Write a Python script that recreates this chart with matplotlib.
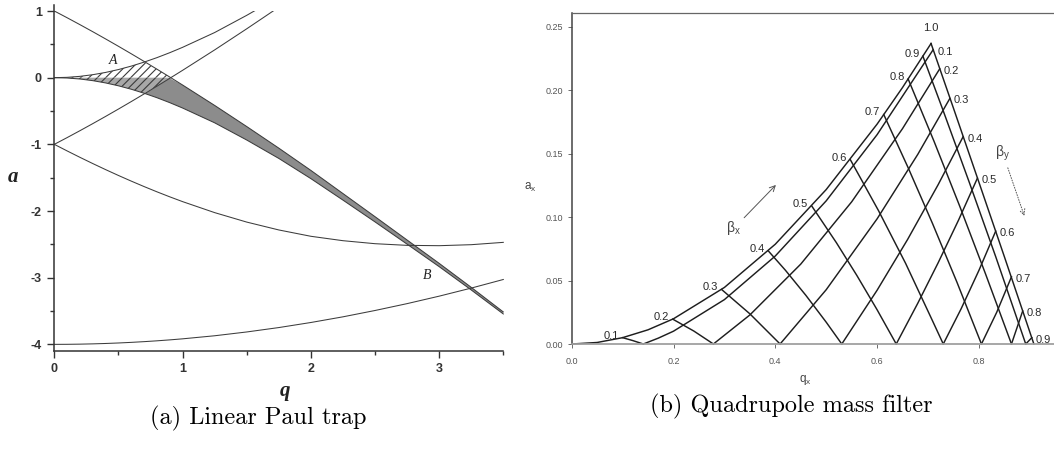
import numpy as np
import matplotlib
matplotlib.use("Agg")
import matplotlib.pyplot as plt
from matplotlib.patches import Rectangle

plt.rcParams['font.family'] = ['Liberation Sans', 'DejaVu Sans']
plt.rcParams['axes.unicode_minus'] = False
plt.rcParams['hatch.linewidth'] = 0.8
plt.rcParams['hatch.color'] = '#3a3a3a'

# ---- (a) linear Paul trap: boundary curves ----
q_grid = [0.0, 0.1, 0.2, 0.3, 0.4, 0.5, 0.6, 0.7, 0.8, 0.9, 1.0,
          1.25, 1.5, 1.75, 2.0, 2.25, 2.5, 2.75, 3.0, 3.25, 3.5]
a0_curve = [0.0, -0.005, -0.0199, -0.0446, -0.0787, -0.1218, -0.1734, -0.2332, -0.3004, -0.3746, -0.4551,
            -0.677, -0.935, -1.211, -1.514, -1.836, -2.163, -2.497, -2.834, -3.184, -3.544]
b1_curve = [1.0, 0.8988, 0.7951, 0.6892, 0.5810, 0.4707, 0.3583, 0.2439, 0.1276, 0.0095, -0.1102,
            -0.4165, -0.733, -1.057, -1.391, -1.738, -2.085, -2.435, -2.785, -3.145, -3.514]
a1_curve = [-1.0, -1.0987, -1.1949, -1.2883, -1.379, -1.4668, -1.5516, -1.6333, -1.7119, -1.7872, -1.8591,
            -2.024, -2.166, -2.284, -2.379, -2.445, -2.49, -2.515, -2.52, -2.505, -2.47]
b2_curve = [-4.0, -3.9992, -3.9967, -3.9925, -3.9867, -3.9792, -3.970, -3.9592, -3.9468, -3.9327, -3.917,
            -3.871, -3.814, -3.748, -3.672, -3.587, -3.492, -3.389, -3.277, -3.156, -3.027]

# ---- (b) quadrupole mass filter: iso-beta lines ----
beta_labels = ['0.1', '0.2', '0.3', '0.4', '0.5', '0.6', '0.7', '0.8', '0.9', '1.0']
# beta_x = 0.1 ... 1.0 (from left boundary down to a=0)
betax_q = [[0.100, 0.120, 0.1407],
           [0.1985, 0.240, 0.2784],
           [0.2945, 0.350, 0.4094],
           [0.3863, 0.420, 0.460, 0.500, 0.5306],
           [0.4718, 0.520, 0.560, 0.600, 0.6376],
           [0.5475, 0.603, 0.656, 0.7085, 0.730],
           [0.613, 0.661, 0.709, 0.757, 0.805],
           [0.661, 0.712, 0.7625, 0.813, 0.864],
           [0.690, 0.728, 0.781, 0.833, 0.892],
           [0.706, 0.750, 0.800, 0.850, 0.908]]
betax_a = [[0.0050, 0.0027, 0.0],
           [0.0196, 0.0102, 0.0],
           [0.0430, 0.0238, 0.0],
           [0.0734, 0.0581, 0.0384, 0.0172, 0.0],
           [0.1087, 0.0799, 0.0542, 0.0270, 0.0],
           [0.1453, 0.105, 0.0636, 0.0186, 0.0],
           [0.181, 0.139, 0.0949, 0.0486, 0.0],
           [0.209, 0.1597, 0.1085, 0.0553, 0.0],
           [0.227, 0.186, 0.1276, 0.0689, 0.0],
           [0.237, 0.186, 0.1276, 0.0689, 0.0]]
# beta_y = 0.0 ... 0.9 (from a=0 up to right boundary)
betay_q = [[0.0, 0.05, 0.1, 0.15, 0.2, 0.3, 0.4, 0.5, 0.6, 0.65, 0.706],
           [0.1407, 0.17, 0.2, 0.3, 0.4, 0.5, 0.6, 0.710],
           [0.2784, 0.35, 0.45, 0.55, 0.65, 0.723],
           [0.4094, 0.5, 0.6, 0.68, 0.743],
           [0.5306, 0.6, 0.66, 0.72, 0.769],
           [0.6376, 0.68, 0.72, 0.76, 0.797],
           [0.730, 0.765, 0.800, 0.833],
           [0.805, 0.835, 0.864],
           [0.864, 0.886],
           [0.892, 0.904]]
betay_a = [[0.0, 0.0012, 0.0050, 0.0112, 0.0199, 0.0446, 0.0787, 0.1218, 0.1734, 0.2023, 0.237],
           [0.0, 0.0046, 0.0101, 0.0350, 0.0694, 0.1129, 0.1651, 0.232],
           [0.0, 0.0229, 0.0630, 0.1121, 0.1699, 0.217],
           [0.0, 0.0428, 0.0987, 0.1496, 0.1937],
           [0.0, 0.0424, 0.0825, 0.1257, 0.1635],
           [0.0, 0.0322, 0.0641, 0.0977, 0.1307],
           [0.0, 0.0277, 0.058, 0.089],
           [0.0, 0.025, 0.053],
           [0.0, 0.026],
           [0.0, 0.005]]

W, H = 1054, 454
fig = plt.figure(figsize=(W / 100, H / 100), dpi=100)


def box(l, t, r, b):
    return [l / W, 1 - b / H, (r - l) / W, (b - t) / H]


# ================= panel (a) =================
ax1 = fig.add_axes(box(54.3, 5, 503.3, 350.7))
q = np.array(q_grid)
A0 = np.array(a0_curve)
B1 = np.array(b1_curve)

up = np.minimum(-A0, B1)
ax1.fill_between(q, 0, up, where=up >= 0, interpolate=True, facecolor='white',
                 edgecolor='#3a3a3a', hatch='////', linewidth=0)
low = np.maximum(A0, -B1)
ax1.fill_between(q, low, 0, where=low <= 0, interpolate=True, facecolor='#a8a8a8',
                 edgecolor='#3a3a3a', hatch='////', linewidth=0)
band_top = -np.abs(B1)
ax1.fill_between(q, A0, band_top, where=band_top >= A0, interpolate=True,
                 facecolor='#8c8c8c', linewidth=0)

clip = Rectangle((0, -5), 3.6, 6.0, transform=ax1.transData)
for curve in [A0, B1, -A0, -B1, np.array(a1_curve), np.array(b2_curve)]:
    ln, = ax1.plot(q, curve, color='#3c3c3c', lw=0.75)
    ln.set_clip_path(clip)

ax1.set_xlim(0, 3.5)
ax1.set_ylim(-4.095, 1.09)
ax1.spines['top'].set_visible(False)
ax1.spines['right'].set_visible(False)
for s in ['left', 'bottom']:
    ax1.spines[s].set_color('#333333')
    ax1.spines[s].set_linewidth(1.1)
ax1.set_xticks([0, 1, 2, 3])
ax1.set_xticks([0.5, 1.5, 2.5, 3.5], minor=True)
ax1.set_yticks([-4, -3, -2, -1, 0, 1])
ax1.set_yticks([-3.5, -2.5, -1.5, -0.5, 0.5], minor=True)
ax1.tick_params(which='major', direction='out', length=5, width=1, color='#333333',
                labelsize=9, labelcolor='#333333', pad=4)
ax1.tick_params(which='minor', direction='out', length=3, width=1, color='#333333')
for lab in ax1.get_xticklabels() + ax1.get_yticklabels():
    lab.set_fontweight('bold')

ax1.text(0.46, 0.265, 'A', family='Liberation Serif', style='italic', fontsize=10,
         ha='center', va='center', color='#222222')
ax1.text(2.91, -2.96, 'B', family='Liberation Serif', style='italic', fontsize=10,
         ha='center', va='center', color='#222222')
fig.text(13.3 / W, 1 - 176.7 / H, 'a', family='Liberation Serif', style='italic',
         weight='bold', fontsize=15, ha='center', va='center', color='#222222')
fig.text(285 / W, 1 - 391 / H, 'q', family='Liberation Serif', style='italic',
         weight='bold', fontsize=15, ha='center', va='center', color='#222222')

# ================= panel (b) =================
ax2 = fig.add_axes(box(571.7, 13.3, 1080.7, 344))
ink = '#1e1e1e'
for qq, aa in zip(betax_q, betax_a):
    ax2.plot(qq, aa, color=ink, lw=1.05, clip_on=False)
for qq, aa in zip(betay_q, betay_a):
    ax2.plot(qq, aa, color=ink, lw=1.05, clip_on=False)

lab_kw = dict(textcoords='offset points', fontsize=8, color='#2a2a2a', va='center')
for txt, qq, aa in zip(beta_labels[:-1], betax_q[:-1], betax_a[:-1]):
    ax2.annotate(txt, xy=(qq[0], aa[0]), xytext=(-2.5, 1.5), ha='right', **lab_kw)
ax2.annotate(beta_labels[-1], xy=(betax_q[-1][0], betax_a[-1][0]), xytext=(0, 11),
             ha='center', **lab_kw)
for txt, qq, aa in zip(beta_labels[:-1], betay_q[1:], betay_a[1:]):
    ax2.annotate(txt, xy=(qq[-1], aa[-1]), xytext=(3, -1.5), ha='left', **lab_kw)

ax2.annotate('', xy=(0.405, 0.127), xytext=(0.335, 0.098),
             arrowprops=dict(arrowstyle='->', color='#555555', lw=0.7))
ax2.text(0.317, 0.0915, 'β$_{\\mathregular{x}}$', fontsize=10, color='#444444',
         ha='center', va='center')
ax2.annotate('', xy=(0.891, 0.099), xytext=(0.855, 0.141),
             arrowprops=dict(arrowstyle='->', color='#555555', lw=0.7, ls=':'))
ax2.text(0.847, 0.1506, 'β$_{\\mathregular{y}}$', fontsize=10, color='#444444',
         ha='center', va='center')

ax2.set_xlim(0, 1.0)
ax2.set_ylim(0, 0.2608)
ax2.set_xticks([0.0, 0.2, 0.4, 0.6, 0.8])
ax2.set_xticklabels(['0.0', '0.2', '0.4', '0.6', '0.8'])
ax2.set_yticks([0.0, 0.05, 0.10, 0.15, 0.20, 0.25])
ax2.set_yticklabels(['0.00', '0.05', '0.10', '0.15', '0.20', '0.25'])
ax2.tick_params(direction='out', length=3, width=0.6, color='#555555',
                labelsize=6.5, labelcolor='#555555', pad=3)
ax2.tick_params(axis='x', pad=6)
ax2.spines['left'].set_color('#444444')
ax2.spines['left'].set_linewidth(1.1)
ax2.spines['top'].set_color('#666666')
ax2.spines['top'].set_linewidth(0.9)
ax2.spines['bottom'].set_color('#a0a0a0')
ax2.spines['bottom'].set_linewidth(1.3)
ax2.spines['right'].set_visible(False)
fig.text(530 / W, 1 - 187 / H, r'a$_{\mathregular{x}}$', fontsize=8.5, color='#444444',
         ha='center', va='center')
fig.text(805 / W, 1 - 380 / H, r'q$_{\mathregular{x}}$', fontsize=8.5, color='#444444',
         ha='center', va='center')

# captions
fig.text(258 / W, 1 - 418 / H, '(a) Linear Paul trap', family='cmr10', fontsize=17.5,
         ha='center', va='center')
fig.text(791 / W, 1 - 406.5 / H, '(b) Quadrupole mass filter', family='cmr10', fontsize=17.5,
         ha='center', va='center')

fig.savefig('out.png', dpi=100)
